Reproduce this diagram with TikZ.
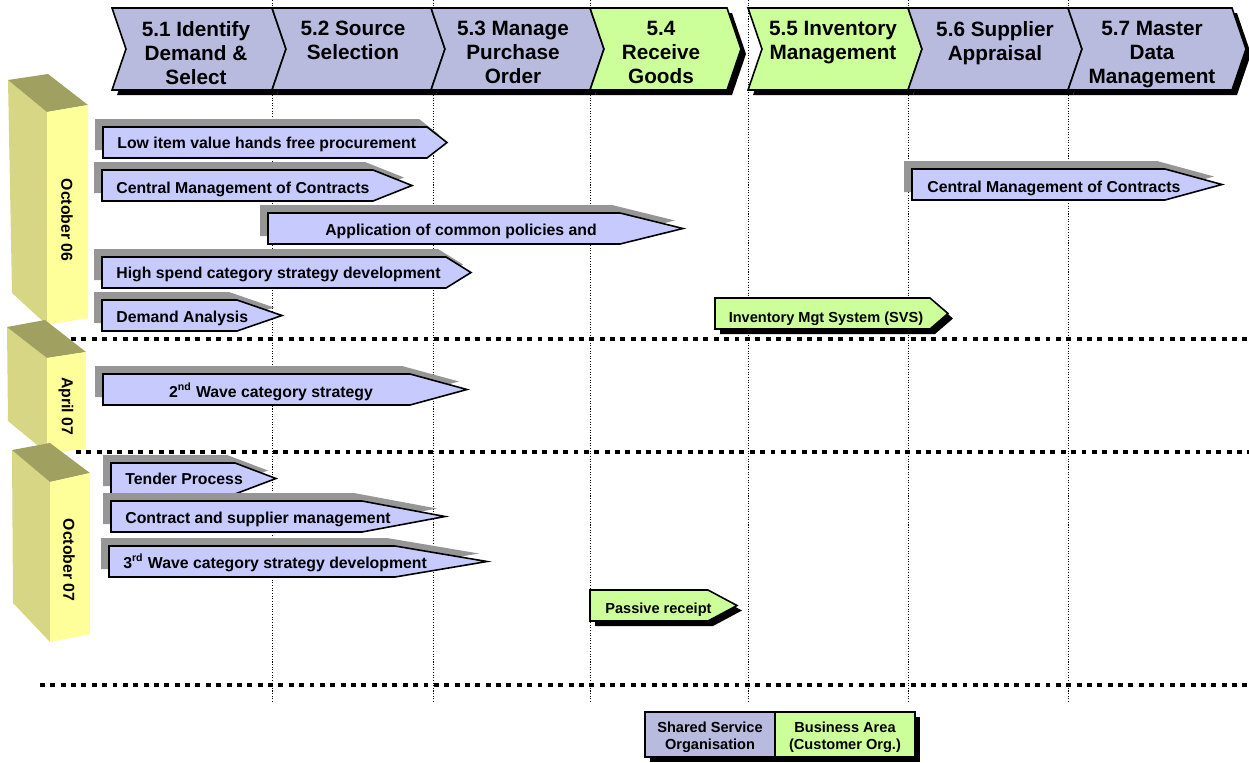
\documentclass[tikz,border=0pt]{standalone}
\usepackage{fontspec}
\setmainfont{Liberation Sans}
\definecolor{headblue}{RGB}{184,186,222}
\definecolor{headgreen}{RGB}{204,255,153}
\definecolor{barblue}{RGB}{198,202,252}
\definecolor{shadegray}{RGB}{150,150,150}
\definecolor{boxfront}{RGB}{255,255,153}
\definecolor{boxside}{RGB}{214,214,133}
\definecolor{boxtop}{RGB}{160,160,96}

% header chevron: left x, right x, fill
\newcommand{\phase}[3]{%
  \fill[black] (#1+5,13) -- (#2+5,13) -- (#2+19,54) -- (#2+5,95) -- (#1+5,95) -- (#1+19,54) -- cycle;
  \filldraw[fill=#3, draw=black, line width=0.9pt] (#1,8) -- (#2,8) -- (#2+14,49) -- (#2,90) -- (#1,90) -- (#1+14,49) -- cycle;
}
% activity bars: left x, top y, end of straight part, tip x
\newcommand{\bluebar}[4]{%
  \fill[shadegray] (#1-8,#2-8) -- (#3-8,#2-8) -- (#4-8,#2+7.5) -- (#3-8,#2+23) -- (#1-8,#2+23) -- cycle;
  \filldraw[fill=barblue, draw=black, line width=0.9pt] (#1,#2) -- (#3,#2) -- (#4,#2+15.5) -- (#3,#2+31) -- (#1,#2+31) -- cycle;
}
\newcommand{\greenbar}[4]{%
  \fill[black] (#1+5,#2+5) -- (#3+5,#2+5) -- (#4+5,#2+20.5) -- (#3+5,#2+36) -- (#1+5,#2+36) -- cycle;
  \filldraw[fill=headgreen, draw=black, line width=0.9pt] (#1,#2) -- (#3,#2) -- (#4,#2+15.5) -- (#3,#2+31) -- (#1,#2+31) -- cycle;
}

\tikzset{
  gridline/.style={line width=0.5pt, dash pattern=on 0.6pt off 0.9pt},
  sepline/.style={line width=2.6pt, dash pattern=on 2.8pt off 3.1pt},
  headtext/.style={anchor=north, align=center, inner sep=0pt, font=\fontsize{11.8}{13.6}\selectfont\bfseries},
  bartext/.style={anchor=base west, inner sep=0pt, font=\fontsize{9}{10}\selectfont\bfseries},
  midtext/.style={anchor=base, inner sep=0pt, font=\fontsize{9}{10}\selectfont\bfseries},
  greentext/.style={inner sep=0pt, font=\fontsize{8.3}{10}\selectfont\bfseries},
  datetext/.style={rotate=-90, inner sep=0pt, font=\fontsize{9}{10}\selectfont\bfseries},
  legtext/.style={anchor=north, align=center, inner sep=0pt, font=\fontsize{8.3}{9.6}\selectfont\bfseries}
}

\begin{document}
\begin{tikzpicture}[x=0.02cm, y=-0.02cm]
  \useasboundingbox (0,0) rectangle (1249,762);

  % Process columns
  \foreach \gx in {272,433,590,748,908,1068}
    \draw[gridline] (\gx,0) -- (\gx,703);

  % Period separators
  \draw[sepline] (40,339) -- (1249,339);
  \draw[sepline] (76,452) -- (1249,452);
  \draw[sepline] (40,685) -- (1249,685);

  % Periods
  \fill[boxside] (8,80) -- (47,112) -- (47,325) -- (12,293) -- cycle;
  \fill[boxtop] (8,80) -- (48,74) -- (88,105) -- (47,112) -- cycle;
  \fill[boxfront] (47,112) -- (88,105) -- (88,318) -- (47,325) -- cycle;
  \node[datetext] (oct06) at (67,220) {October 06};

  \fill[boxside] (7,327) -- (47,358) -- (47,453) -- (8,421) -- cycle;
  \fill[boxtop] (7,327) -- (45,320) -- (86,352) -- (47,358) -- cycle;
  \fill[boxfront] (47,358) -- (86,352) -- (86,449) -- (47,453) -- cycle;
  \node[datetext] (apr07) at (66,406) {April 07};

  \fill[boxside] (12,450) -- (50,482) -- (50,642) -- (13,603) -- cycle;
  \fill[boxtop] (12,450) -- (50,443) -- (90,473) -- (50,482) -- cycle;
  \fill[boxfront] (50,482) -- (90,473) -- (90,634) -- (50,642) -- cycle;
  \node[datetext] (oct07) at (69,560) {October 07};

  % Activities
  \bluebar{103}{127}{427}{447}
  \node[bartext] (lowitem) at (117,148) {Low item value hands free procurement};
  \bluebar{102}{170}{373}{412}
  \node[bartext] (cmcleft) at (116,193) {Central Management of Contracts};
  \bluebar{912}{169}{1165}{1222}
  \node[bartext] (cmcright) at (927,192) {Central Management of Contracts};
  \bluebar{268}{213}{620}{683}
  \node[midtext] (policies) at (461,235) {Application of common policies and};
  \bluebar{102}{257}{446}{471}
  \node[bartext] (highspend) at (116,278) {High spend category strategy development};
  \bluebar{102}{300}{237}{282}
  \node[bartext] (demand) at (116,322) {Demand Analysis};
  \greenbar{715}{298}{930}{948}
  \node[greentext, anchor=base] (invsys) at (826,322) {Inventory Mgt System (SVS)};
  \bluebar{103}{374}{410}{467}
  \node[midtext] (wave2) at (271,397) {2\textsuperscript{nd} Wave category strategy};
  \bluebar{111}{463}{235}{276}
  \node[bartext] (tender) at (125,484) {Tender Process};
  \bluebar{111}{501}{362}{445}
  \node[bartext] (contract) at (125,523) {Contract and supplier management};
  \bluebar{109}{546}{395}{487}
  \node[bartext] (wave3) at (123,568) {3\textsuperscript{rd} Wave category strategy development};
  \greenbar{590}{590}{708}{737}
  \node[greentext, anchor=base west] (passive) at (605,613) {Passive receipt};

  % Header
  \phase{112}{272}{headblue}
  \phase{272}{431}{headblue}
  \phase{431}{590}{headblue}
  \phase{590}{727}{headgreen}
  \phase{748}{908}{headgreen}
  \phase{908}{1068}{headblue}
  \phase{1068}{1232}{headblue}
  \node[headtext] (h51) at (196,21) {5.1 Identify\\Demand \&\\Select};
  \node[headtext] (h52) at (353,21) {5.2 Source\\Selection};
  \node[headtext] (h53) at (513,21) {5.3 Manage\\Purchase\\Order};
  \node[headtext] (h54) at (661,21) {5.4\\Receive\\Goods};
  \node[headtext] (h55) at (833,21) {5.5 Inventory\\Management};
  \node[headtext] (h56) at (995,21) {5.6 Supplier\\Appraisal};
  \node[headtext] (h57) at (1152,21) {5.7 Master\\Data\\Management};

  % Legend
  \fill[black] (650,717) rectangle (920,762);
  \filldraw[fill=headblue, draw=black, line width=0.9pt] (645,712) rectangle (775,757);
  \filldraw[fill=headgreen, draw=black, line width=0.9pt] (775,712) rectangle (915,757);
  \node[legtext] (legsso) at (710,722) {Shared Service\\Organisation};
  \node[legtext] (legba) at (845,722) {Business Area\\(Customer Org.)};
\end{tikzpicture}
\end{document}
